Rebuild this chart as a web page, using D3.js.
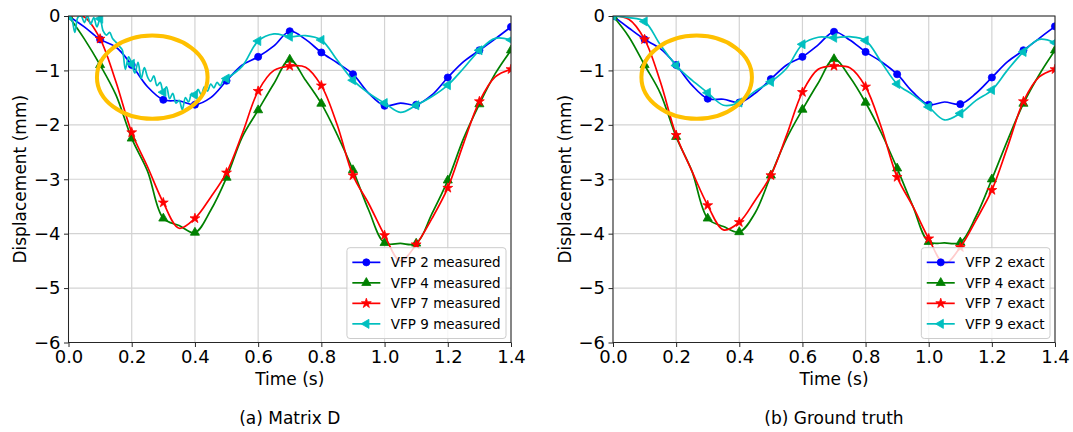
<!DOCTYPE html>
<html>
<head>
<meta charset="utf-8">
<script src="https://cdn.jsdelivr.net/npm/d3@7"></script>
<style>
  body { margin: 0; background: #fff; }
  text { font-family: "DejaVu Sans", sans-serif; fill: #000; }
</style>
</head>
<body>
<svg id="chart" width="1073" height="432"></svg>
<script>
// time grid of the smooth curves (s) and the noisy start of VFP 9 measured
var times = d3.range(0, 29).map(function(i) { return +(i * 0.05).toFixed(2); });
var timesNoisy = d3.range(0, 51).map(function(i) { return +(i * 0.01).toFixed(2); })
  .concat(d3.range(11, 29).map(function(i) { return +(i * 0.05).toFixed(2); }));

var xTicks = [0, 0.2, 0.4, 0.6, 0.8, 1.0, 1.2, 1.4];
var yTicks = [0, -1, -2, -3, -4, -5, -6];

// (a) Matrix D - measured displacement (mm)
var vfp2Measured = [0, -0.2, -0.43, -0.57, -0.9, -1.3, -1.54, -1.56, -1.63, -1.5, -1.19, -0.9, -0.75, -0.55, -0.28,
  -0.43, -0.67, -0.86, -1.07, -1.42, -1.65, -1.6, -1.63, -1.45, -1.13, -0.84, -0.63, -0.42, -0.2];
var vfp4Measured = [0, -0.42, -0.9, -1.45, -2.25, -2.85, -3.72, -3.85, -3.98, -3.57, -2.97, -2.22, -1.73, -1.24, -0.8,
  -1.18, -1.61, -2.18, -2.83, -3.57, -4.17, -4.18, -4.18, -3.63, -3.02, -2.25, -1.62, -1.06, -0.63];
var vfp7Measured = [0, -0.02, -0.42, -1.21, -2.14, -2.77, -3.43, -3.9, -3.72, -3.33, -2.88, -2.16, -1.38, -1.0, -0.92,
  -0.94, -1.28, -2.0, -2.93, -3.45, -4.03, -4.5, -4.2, -3.72, -3.16, -2.34, -1.57, -1.12, -0.98];
var vfp9Measured = [0, -0.05, -0.3, -0.02, 0, -0.12, 0, -0.15, -0.03, -0.2,
  -0.05, -0.28, -0.35, -0.3, -0.42, -0.48, -0.55, -0.62, -0.98, -0.75,
  -0.88, -1.05, -0.85, -1.15, -0.95, -1.12, -1.2, -1.1, -1.28, -1.22,
  -1.4, -1.3, -1.52, -1.42, -1.6, -1.55, -1.72, -1.5, -1.58, -1.42,
  -1.45, -1.35, -1.45, -1.3, -1.38, -1.25, -1.32, -1.22, -1.28, -1.18,
  -1.15, -0.92, -0.46, -0.33, -0.38, -0.36, -0.44, -0.81, -1.18, -1.42, -1.6, -1.77, -1.64, -1.48, -1.27,
  -0.96, -0.63, -0.41, -0.44];

// (b) Ground truth - exact displacement (mm)
var vfp2Exact = [0, -0.22, -0.43, -0.6, -0.9, -1.27, -1.52, -1.53, -1.59, -1.42, -1.16, -0.9, -0.75, -0.53, -0.29,
  -0.44, -0.66, -0.84, -1.07, -1.4, -1.63, -1.58, -1.62, -1.42, -1.13, -0.84, -0.63, -0.41, -0.19];
var vfp4Exact = [0, -0.38, -0.9, -1.42, -2.22, -2.85, -3.72, -3.87, -3.97, -3.62, -2.93, -2.25, -1.72, -1.23, -0.79,
  -1.12, -1.59, -2.15, -2.8, -3.5, -4.15, -4.17, -4.16, -3.68, -3.0, -2.28, -1.61, -1.08, -0.63];
var vfp7Exact = [0, -0.06, -0.43, -1.21, -2.19, -2.85, -3.48, -3.93, -3.79, -3.39, -2.93, -2.19, -1.4, -0.98, -0.92,
  -0.95, -1.3, -2.05, -2.96, -3.5, -4.09, -4.55, -4.25, -3.75, -3.2, -2.4, -1.57, -1.12, -0.98];
var vfp9Exact = [0, -0.03, -0.1, -0.53, -0.91, -1.18, -1.41, -1.64, -1.59, -1.38, -1.21, -0.96, -0.52, -0.39, -0.4,
  -0.38, -0.45, -0.85, -1.25, -1.45, -1.67, -1.91, -1.79, -1.55, -1.36, -0.99, -0.66, -0.43, -0.49];

// highlighted region (data units)
var ellipseCenter = [0.265, -1.125], ellipseRadii = [0.175, 0.765];

var seriesNames = ["VFP 2", "VFP 4", "VFP 7", "VFP 9"];
var colors = ["#0000ff", "#008000", "#ff0000", "#00bfbf"];

var svg = d3.select("#chart");
var plotTop = 16, plotBottom = 342.5;

function markerPath(k) {
  if (k == 0) return d3.symbol(d3.symbolCircle, 40)();
  if (k == 1) return d3.symbol(d3.symbolTriangle, 36)();
  if (k == 2) return d3.symbol(d3.symbolStar, 30)();
  return d3.symbol(d3.symbolTriangle, 36)();
}

var panels = [
  { x0: 68.5, x1: 511, suffix: "measured", caption: "(a) Matrix D",
    series: [[times, vfp2Measured], [times, vfp4Measured], [times, vfp7Measured], [timesNoisy, vfp9Measured]] },
  { x0: 613, x1: 1055, suffix: "exact", caption: "(b) Ground truth",
    series: [[times, vfp2Exact], [times, vfp4Exact], [times, vfp7Exact], [times, vfp9Exact]] }
];

panels.forEach(function(p, pi) {
  var x = d3.scaleLinear().domain([0, 1.4]).range([p.x0, p.x1]);
  var y = d3.scaleLinear().domain([-6, 0]).range([plotBottom, plotTop]);
  var g = svg.append("g");

  g.append("clipPath").attr("id", "clip" + pi)
    .append("rect").attr("x", p.x0).attr("y", plotTop)
    .attr("width", p.x1 - p.x0).attr("height", plotBottom - plotTop);

  // grid
  g.selectAll(".gx").data(xTicks).enter().append("line")
    .attr("x1", function(d) { return x(d); }).attr("x2", function(d) { return x(d); })
    .attr("y1", plotTop).attr("y2", plotBottom)
    .style("stroke", "#d3d3d3").style("stroke-width", 1.2);
  g.selectAll(".gy").data(yTicks).enter().append("line")
    .attr("x1", p.x0).attr("x2", p.x1)
    .attr("y1", function(d) { return y(d); }).attr("y2", function(d) { return y(d); })
    .style("stroke", "#d3d3d3").style("stroke-width", 1.2);

  var plot = g.append("g").attr("clip-path", "url(#clip" + pi + ")");

  p.series.forEach(function(s, k) {
    var pts = s[0].map(function(t, i) { return { t: t, v: s[1][i] }; });
    var line = d3.line()
      .x(function(d) { return x(d.t); })
      .y(function(d) { return y(d.v); })
      .curve(d3.curveCatmullRom.alpha(0.5));
    plot.append("path")
      .attr("d", line(pts))
      .style("fill", "none")
      .style("stroke", colors[k])
      .style("stroke-width", 1.7);

    // markers every 0.1 s
    var marks = pts.filter(function(d) { return Math.abs(d.t * 10 - Math.round(d.t * 10)) < 1e-6; });
    plot.selectAll(".m" + k).data(marks).enter().append("path")
      .attr("d", markerPath(k))
      .attr("transform", function(d) {
        return "translate(" + x(d.t) + "," + y(d.v) + ")" + (k == 3 ? " rotate(-90)" : "");
      })
      .style("fill", colors[k])
      .style("stroke", colors[k])
      .style("stroke-width", 0.8);
  });

  // orange highlight
  g.append("ellipse")
    .attr("cx", x(ellipseCenter[0])).attr("cy", y(ellipseCenter[1]))
    .attr("rx", x(ellipseRadii[0]) - x(0)).attr("ry", y(-ellipseRadii[1]) - y(0))
    .style("fill", "none").style("stroke", "#ffc000").style("stroke-width", 4);

  // spines
  g.append("rect").attr("x", p.x0).attr("y", plotTop)
    .attr("width", p.x1 - p.x0).attr("height", plotBottom - plotTop)
    .style("fill", "none").style("stroke", "#262626").style("stroke-width", 1);

  // axes
  var xAxis = g.append("g").attr("transform", "translate(0," + plotBottom + ")")
    .call(d3.axisBottom(x).tickValues(xTicks).tickFormat(d3.format(".1f")).tickSize(4.5).tickPadding(3.5));
  var yAxis = g.append("g").attr("transform", "translate(" + p.x0 + ",0)")
    .call(d3.axisLeft(y).tickValues(yTicks)
      .tickFormat(function(d) { return d < 0 ? "\u2212" + Math.abs(d) : d; })
      .tickSize(4.5).tickPadding(3.5));
  [xAxis, yAxis].forEach(function(a) {
    a.select(".domain").remove();
    a.selectAll("line").style("stroke", "#262626");
    a.selectAll("text").style("font-size", "18px").style("font-family", "DejaVu Sans").style("fill", "#000");
  });

  g.append("text")
    .attr("x", (p.x0 + p.x1) / 2).attr("y", 385)
    .attr("text-anchor", "middle").style("font-size", "17px")
    .text("Time (s)");
  g.append("text")
    .attr("transform", "translate(" + (p.x0 - 48) + "," + ((plotTop + plotBottom) / 2) + ") rotate(-90)")
    .attr("text-anchor", "middle").attr("dy", "0.35em").style("font-size", "17px")
    .text("Displacement (mm)");
  g.append("text")
    .attr("x", (p.x0 + p.x1) / 2).attr("y", 424)
    .attr("text-anchor", "middle").style("font-size", "17px")
    .text(p.caption);

  // legend
  var fs = 13.5, rowH = 20.5, pad = 5.4, handleLen = 28, textPad = 10.5;
  var leg = g.append("g");
  var box = leg.append("rect").attr("rx", 3)
    .style("fill", "#fff").style("fill-opacity", 0.8)
    .style("stroke", "#cccccc").style("stroke-width", 1);
  var labels = seriesNames.map(function(n) { return n + " " + p.suffix; });
  var maxW = 0;
  var items = leg.selectAll(".li").data(labels).enter().append("g");
  items.append("text")
    .attr("x", handleLen + textPad).attr("y", function(d, i) { return i * rowH; })
    .attr("dy", "0.35em").style("font-size", fs + "px")
    .text(function(d) { return d; })
    .each(function() { maxW = Math.max(maxW, this.getComputedTextLength()); });
  items.append("line")
    .attr("x1", 0).attr("x2", handleLen)
    .attr("y1", function(d, i) { return i * rowH; }).attr("y2", function(d, i) { return i * rowH; })
    .style("stroke", function(d, i) { return colors[i]; }).style("stroke-width", 1.7);
  items.append("path")
    .attr("d", function(d, i) { return markerPath(i); })
    .attr("transform", function(d, i) {
      return "translate(" + handleLen / 2 + "," + i * rowH + ")" + (i == 3 ? " rotate(-90)" : "");
    })
    .style("fill", function(d, i) { return colors[i]; })
    .style("stroke", function(d, i) { return colors[i]; }).style("stroke-width", 0.8);
  var bw = pad * 2 + handleLen + textPad + maxW;
  var bh = pad * 2 + rowH * 4 - 2;
  var bx = p.x1 - 5 - bw, by = plotBottom - 4 - bh;
  box.attr("x", 0).attr("y", 0).attr("width", bw).attr("height", bh);
  leg.attr("transform", "translate(" + bx + "," + by + ")");
  items.attr("transform", "translate(" + pad + "," + (pad + rowH / 2 - 1) + ")");
});
</script>
</body>
</html>
